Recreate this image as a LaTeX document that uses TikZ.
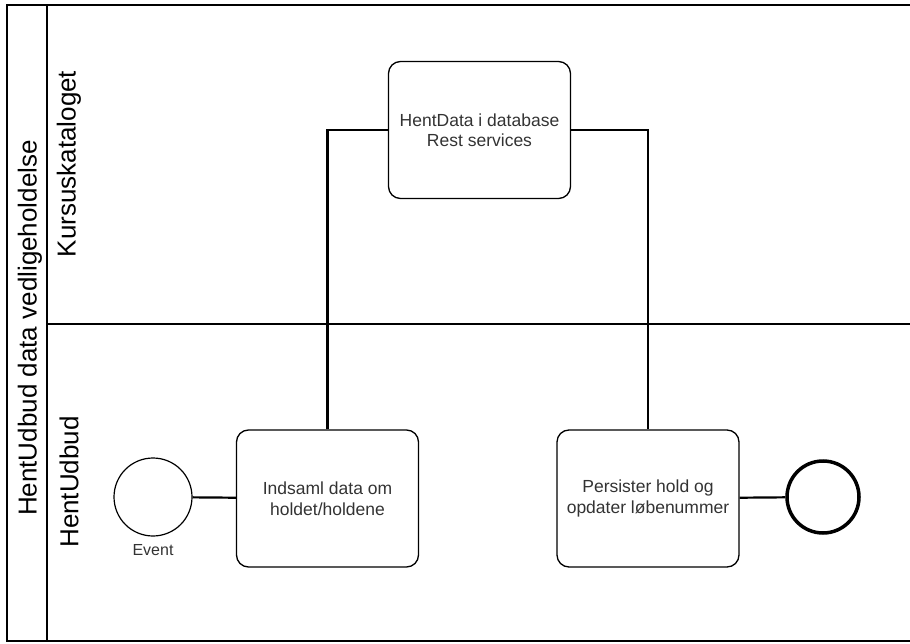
\documentclass[tikz,border=0pt]{standalone}
\usepackage{fontspec}
\setmainfont{Liberation Sans}
\begin{document}
\begin{tikzpicture}[x=1pt,y=-1pt,
  lane/.style={line width=2pt},
  task/.style={draw, line width=1.3pt, rounded corners=12pt, minimum width=182pt, minimum height=137pt, align=center, text=black!80, font=\fontsize{17.5}{20.5}\selectfont, inner sep=0pt},
  conn/.style={line width=2.2pt},
  lbl/.style={rotate=90, font=\fontsize{26}{30}\selectfont, inner sep=0pt}
]
\useasboundingbox (0,0) rectangle (910,644);
% pool
\draw[lane] (910,5) -- (7,5) -- (7,641) -- (910,641);
\draw[lane] (47,5) -- (47,641);
\draw[lane] (47,324) -- (910,324);
\node[lbl] (pool) at (30,328) {HentUdbud data vedligeholdelse};
\node[lbl] (l1) at (69,164) {Kursuskataloget};
\node[lbl] (l2) at (69,482) {HentUdbud};
% tasks
\node[task] (hent) at (479.5,130) {HentData i database\\Rest services};
\node[task] (ind) at (327.5,498.5) {Indsaml data om\\holdet/holdene};
\node[task] (per) at (648,498.5) {Persister hold og\\opdater løbenummer};
% events
\node[draw, circle, line width=1.2pt, minimum size=78pt, inner sep=0pt] (ev) at (153,497) {};
\node[font=\fontsize{16}{18}\selectfont, text=black!80, inner sep=0pt] (evl) at (153,550) {Event};
\node[draw, circle, line width=3.5pt, minimum size=72pt, inner sep=0pt] (end) at (823,497) {};
% connectors
\draw[conn] (ev) -- (ind);
\draw[conn] (ind.north) |- (hent.west);
\draw[conn] (hent.east) -| (per.north);
\draw[conn] (per) -- (end);
\end{tikzpicture}
\end{document}
